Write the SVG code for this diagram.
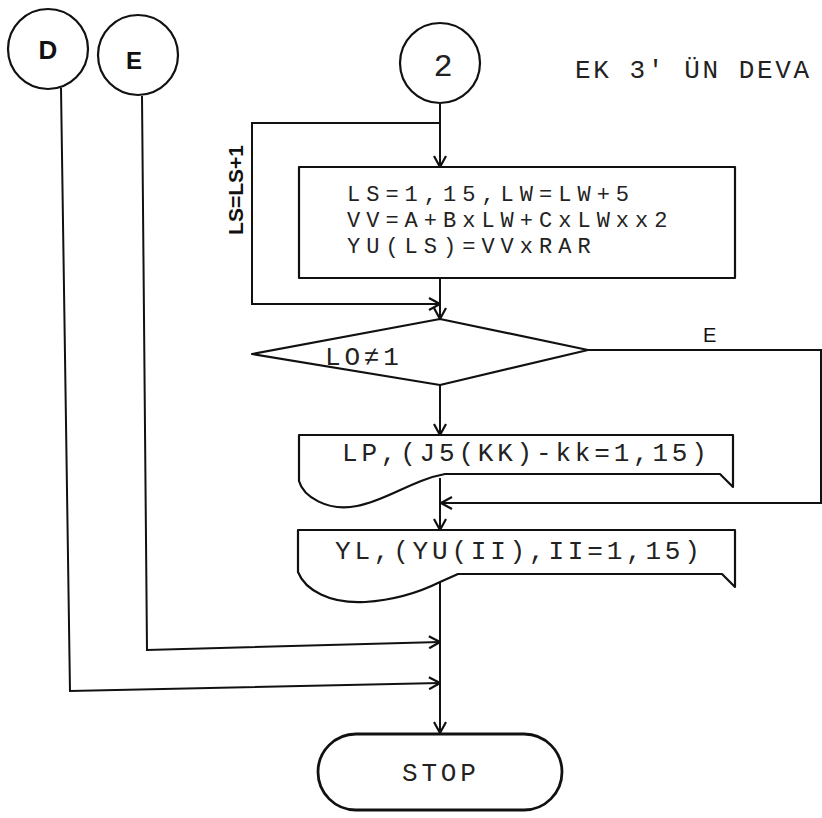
<svg xmlns="http://www.w3.org/2000/svg" width="822" height="818" viewBox="0 0 822 818">
<defs>
<style>
.sh{fill:none;stroke:#111;stroke-width:2.2;stroke-linejoin:round}
.ln{fill:none;stroke:#111;stroke-width:2}
.tw{font-family:"Liberation Mono","Courier New",monospace;font-size:26px;letter-spacing:3.8px;fill:#222}
.bx{font-size:22px;letter-spacing:6px}
.hd{font-family:"Liberation Sans",Arial,sans-serif;fill:#111}
</style>
<marker id="arr" viewBox="0 0 14 14" refX="13" refY="7" markerWidth="14" markerHeight="14" markerUnits="userSpaceOnUse" orient="auto">
<path d="M2,1 L13,7 L2,13" fill="none" stroke="#111" stroke-width="2.2"/>
</marker>
</defs>
<rect width="822" height="818" fill="#fff"/>

<g id="connectors">
<path class="ln" d="M440,104 V167" marker-end="url(#arr)"/>
<path class="ln" d="M440,123 H252 V304 H440" marker-end="url(#arr)"/>
<path class="ln" d="M440,278 V319" marker-end="url(#arr)"/>
<path class="ln" d="M440,385 V435" marker-end="url(#arr)"/>
<path class="ln" d="M588,350 H821 V503 H441" marker-end="url(#arr)"/>
<path class="ln" d="M440,478 V530" marker-end="url(#arr)"/>
<path class="ln" d="M440,582 V733" marker-end="url(#arr)"/>
<path class="ln" d="M142,96 L147,650 L440,642" marker-end="url(#arr)"/>
<path class="ln" d="M61,88 L70,691 L440,683" marker-end="url(#arr)"/>
<text class="hd" x="703" y="342" style="font-size:20px">E</text>
<text class="hd" transform="translate(243,190) rotate(-90)" text-anchor="middle" style="font-size:21px;font-weight:bold">LS=LS+1</text>
</g>

<g id="connD">
<circle class="sh" cx="48" cy="49" r="40"/>
<text class="hd" x="48" y="59" text-anchor="middle" style="font-size:26px;font-weight:bold">D</text>
</g>
<g id="connE">
<circle class="sh" cx="138" cy="55" r="40"/>
<text class="hd" x="134" y="69" text-anchor="middle" style="font-size:24px;font-weight:bold">E</text>
</g>
<g id="conn2">
<circle class="sh" cx="440" cy="63" r="40"/>
<text class="tw" x="443" y="76" text-anchor="middle" style="font-size:32px;letter-spacing:0">2</text>
</g>
<g id="title">
<text class="tw" x="575" y="78" style="letter-spacing:2.6px">EK 3' ÜN DEVA</text>
</g>

<g id="box1">
<rect class="sh" x="299" y="167" width="436" height="111"/>
<text class="tw bx" x="347" y="201">LS=1,15,LW=LW+5</text>
<text class="tw bx" x="347" y="227">VV=A+BxLW+CxLWxx2</text>
<text class="tw bx" x="347" y="253">YU(LS)=VVxRAR</text>
</g>

<g id="decision">
<polygon class="sh" points="440,319 588,350 440,385 252,354"/>
<text class="tw" x="325" y="365">LO≠1</text>
</g>

<g id="outLP">
<path class="sh" d="M299,435 H733 V487 L720,474 H445 C412,480 388,500 357,506 C327,512 303,496 299,481 Z"/>
<text class="tw" x="342" y="461">LP,(J5(KK)-kk=1,15)</text>
</g>

<g id="outYL">
<path class="sh" d="M298,530 H735 V587 L722,574 H458 L440,582 C420,592 395,600 365,602 C330,604 305,590 298,572 Z"/>
<text class="tw" x="335" y="559">YL,(YU(II),II=1,15)</text>
</g>

<g id="stop">
<rect class="sh" x="318" y="734" width="244" height="76" rx="38" ry="38" style="stroke-width:2.8"/>
<text class="tw" x="402" y="781" fill="#333">STOP</text>
</g>
</svg>
